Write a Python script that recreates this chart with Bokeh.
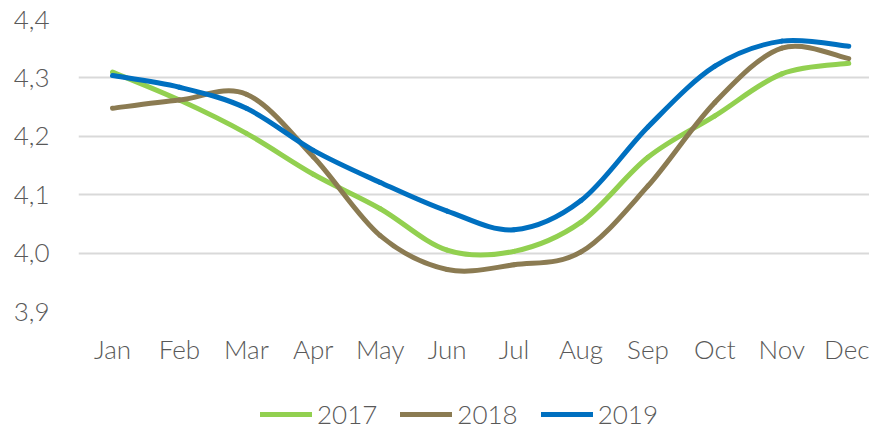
from bokeh.plotting import figure
from bokeh.layouts import column
from bokeh.models import (Range1d, FixedTicker, CustomJSTickFormatter, Legend, LegendItem,
                          ColumnDataSource)
from bokeh.embed import file_html
from bokeh.resources import INLINE

months = ["Jan", "Feb", "Mar", "Apr", "May", "Jun", "Jul", "Aug", "Sep", "Oct", "Nov", "Dec"]
y2017 = [4.310, 4.262, 4.205, 4.135, 4.076, 4.005, 4.003, 4.053, 4.164, 4.235, 4.307, 4.325]
y2018 = [4.248, 4.262, 4.272, 4.165, 4.030, 3.972, 3.980, 4.002, 4.115, 4.258, 4.351, 4.333]
y2019 = [4.304, 4.284, 4.248, 4.176, 4.121, 4.072, 4.040, 4.090, 4.216, 4.320, 4.363, 4.354]
y_ticks = [3.9, 4.0, 4.1, 4.2, 4.3, 4.4]

series = [("2017", y2017, "#92D050"), ("2018", y2018, "#8B7B52"), ("2019", y2019, "#0070C0")]

FONT = "Lato Light"
TXT = "#595959"
FS = "26px"

p = figure(width=869, height=370, output_backend="svg", toolbar_location=None,
           x_range=Range1d(-0.508, 11.31), y_range=Range1d(3.9, 4.4),
           min_border_left=78, min_border_top=19, min_border_right=0, min_border_bottom=59)
p.outline_line_color = None
p.background_fill_color = "white"
p.border_fill_color = "white"

# axes
p.xaxis.ticker = FixedTicker(ticks=list(range(len(months))))
p.xaxis.major_label_overrides = {i: m for i, m in enumerate(months)}
p.yaxis.ticker = FixedTicker(ticks=y_ticks)
p.yaxis.formatter = CustomJSTickFormatter(code="return tick.toFixed(1).replace('.', ',');")
for ax in (p.xaxis, p.yaxis):
    ax.axis_line_color = None
    ax.major_tick_line_color = None
    ax.minor_tick_line_color = None
    ax.major_label_text_font = FONT
    ax.major_label_text_font_size = FS
    ax.major_label_text_color = TXT
p.xaxis.major_label_standoff = 15
p.yaxis.major_label_standoff = 23

p.xgrid.grid_line_color = None
p.ygrid.grid_line_color = "#D9D9D9"
p.ygrid.grid_line_width = 2
p.ygrid.ticker = FixedTicker(ticks=y_ticks)

# smoothed lines (Catmull-Rom style Bezier segments, like Excel's smoothed line)
for name, ys, color in series:
    xs = list(range(len(ys)))
    n = len(ys)
    x0, y0, x1, y1, cx0, cy0, cx1, cy1 = [], [], [], [], [], [], [], []
    for i in range(n - 1):
        pm = (xs[max(i - 1, 0)], ys[max(i - 1, 0)])
        pa = (xs[i], ys[i])
        pb = (xs[i + 1], ys[i + 1])
        pp = (xs[min(i + 2, n - 1)], ys[min(i + 2, n - 1)])
        x0.append(pa[0]); y0.append(pa[1]); x1.append(pb[0]); y1.append(pb[1])
        cx0.append(pa[0] + (pb[0] - pm[0]) / 6.0); cy0.append(pa[1] + (pb[1] - pm[1]) / 6.0)
        cx1.append(pb[0] - (pp[0] - pa[0]) / 6.0); cy1.append(pb[1] - (pp[1] - pa[1]) / 6.0)
    src = ColumnDataSource(dict(x0=x0, y0=y0, x1=x1, y1=y1, cx0=cx0, cy0=cy0, cx1=cx1, cy1=cy1))
    p.bezier(x0="x0", y0="y0", x1="x1", y1="y1", cx0="cx0", cy0="cy0", cx1="cx1", cy1="cy1",
             source=src, line_color=color, line_width=5, line_cap="round")

# legend strip below the chart
p2 = figure(width=869, height=60, output_backend="svg", toolbar_location=None,
            x_range=Range1d(0, 1), y_range=Range1d(0, 1), min_border=0)
p2.axis.visible = False
p2.grid.visible = False
p2.outline_line_color = None
p2.border_fill_color = "white"
items = []
for name, ys, color in series:
    lr = p2.line(x=[float("nan")], y=[float("nan")], line_color=color, line_width=5,
                 line_cap="round")
    items.append(LegendItem(label=name, renderers=[lr]))
legend = Legend(items=items, orientation="horizontal", location=(182, 0),
                glyph_width=52, glyph_height=10, label_height=10, label_standoff=5, spacing=23,
                padding=0, margin=0, border_line_color=None, background_fill_alpha=0,
                label_text_font=FONT, label_text_font_size=FS, label_text_color=TXT)
p2.add_layout(legend, "center")

layout = column(p, p2, spacing=0)
open("out.html", "w").write(file_html(layout, INLINE))
